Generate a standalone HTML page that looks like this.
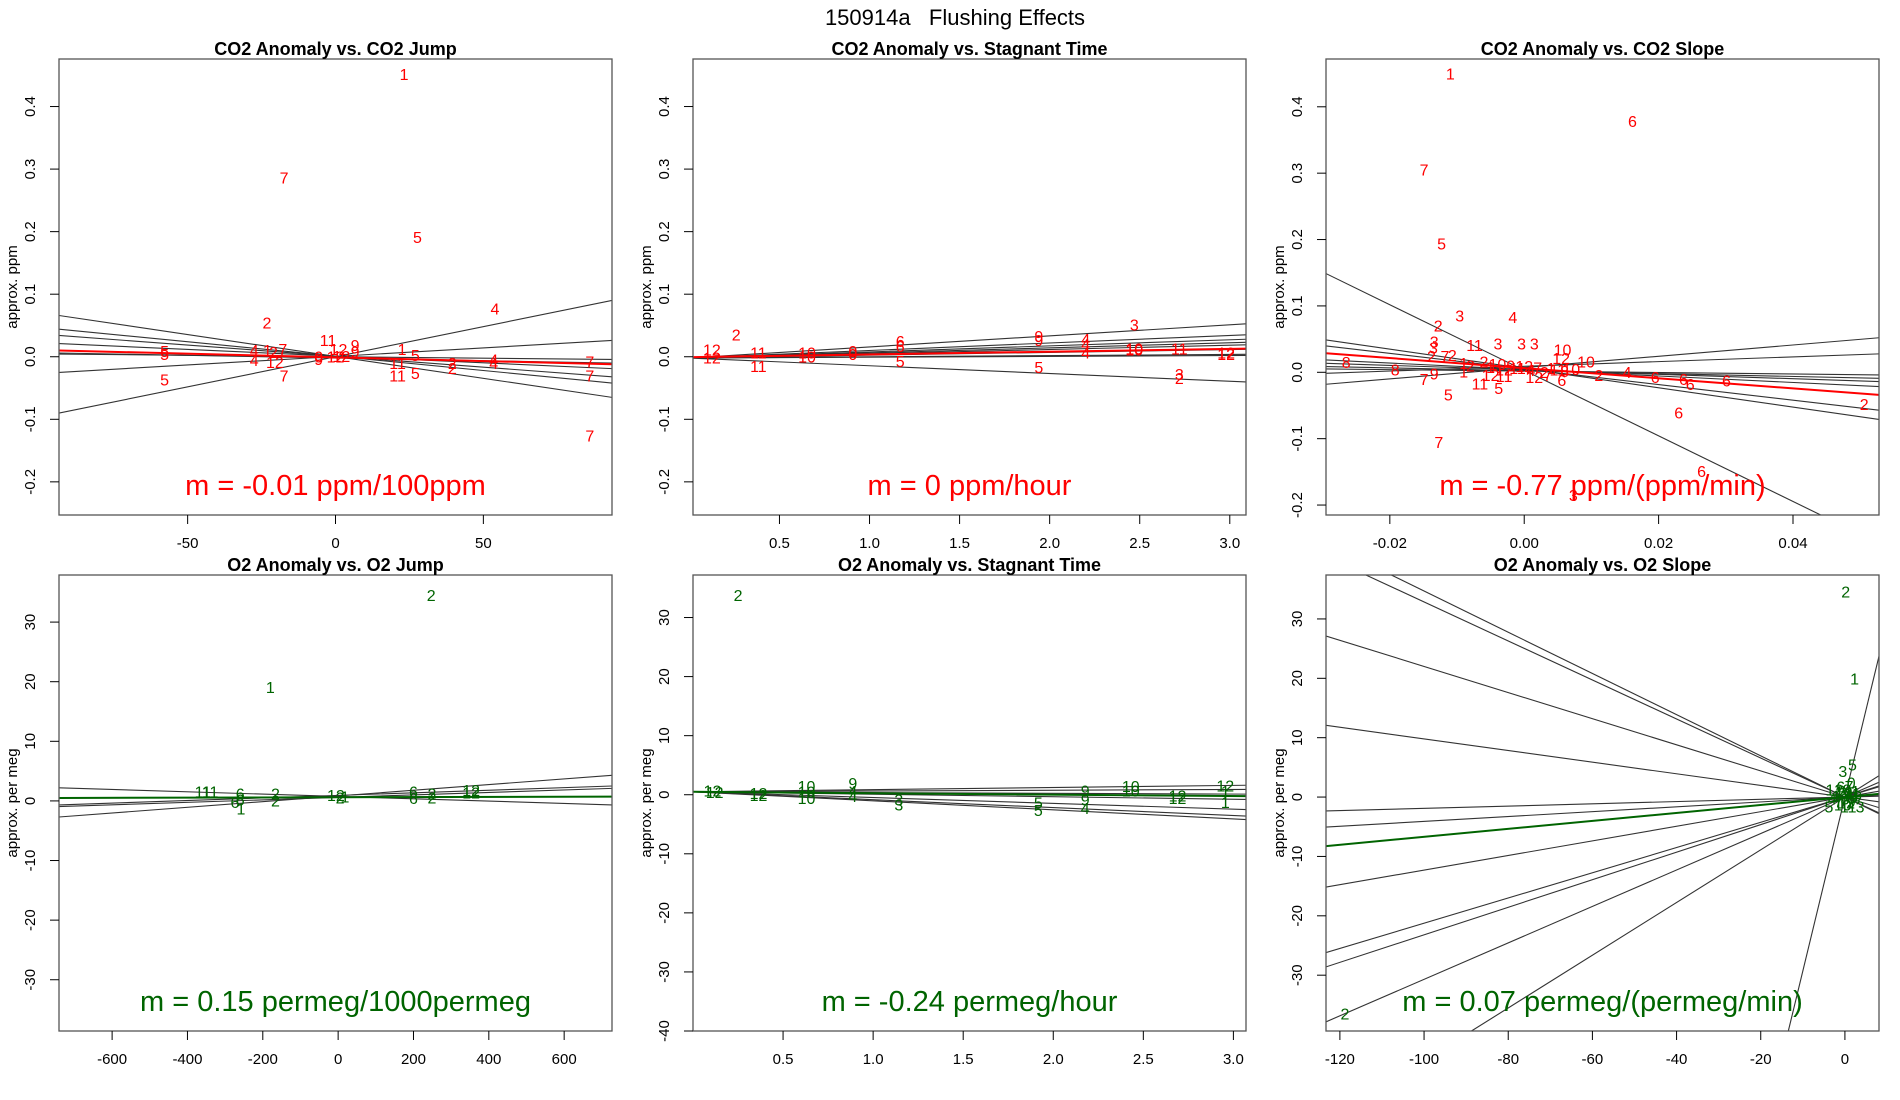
<!DOCTYPE html>
<html><head><meta charset="utf-8"><title>150914a Flushing Effects</title>
<style>
html,body{margin:0;padding:0;background:#fff;width:1900px;height:1100px;overflow:hidden;}
svg{display:block;font-family:"Liberation Sans",Arial,sans-serif;}
</style></head>
<body>
<svg id="chart" xmlns="http://www.w3.org/2000/svg" width="1900" height="1100" viewBox="0 0 1900 1100">
<rect x="0" y="0" width="1900" height="1100" fill="#fff"/>
<text x="955" y="25" text-anchor="middle" font-size="22" style="white-space:pre">150914a   Flushing Effects</text>
</svg>
<script>
// ---------- Panel 1: CO2 Anomaly vs CO2 Jump ----------
const p1X = [23.2,-17.4,27.7,53.9,-23.2,-57.8,-57.8,-57.8,-27.5,-27.5,-20.5,-17.4,-17.8,-23,-21,-2.5,1,6.6,-5.7,0,2,22.5,21,21,27,27,39.5,39.5,53.5,53.5,86,86,86,6.6,-5.7];
const p1Y = [0.45,0.284,0.189,0.075,0.052,0.007,0.002,-0.039,0.008,-0.008,-0.011,-0.032,0.01,0.008,0.005,0.024,0.01,0.016,-0.002,-0.002,-0.001,0.01,-0.012,-0.032,0.0,-0.028,-0.012,-0.02,-0.007,-0.012,-0.01,-0.032,-0.128,0.006,-0.006];
const p1Lab = ["1","7","5","4","2","5","5","5","4","4","12","7","7","1","2","11","12","9","0","12","12","1","11","11","5","5","2","2","4","4","7","7","7","9","9"];
const p1Slopes = [-0.0007,-0.00046,-0.000353,-0.000214,-0.0000856,0.000273,0.000963,-0.0000455];
const p1Ints = [0.0005,0.001,0.001,0.001,-0.002,0.0005,0,0];
const p1Fit = [-0.000118,-0.001];
const p1XTicks = [-50,0,50];
const p1YTicks = [-0.2,-0.1,0.0,0.1,0.2,0.3,0.4];

// ---------- Panel 2: CO2 Anomaly vs Stagnant Time ----------
const p2X = [0.125,0.125,0.26,0.383,0.383,0.653,0.653,0.907,0.907,1.17,1.17,1.17,1.94,1.94,1.94,2.47,2.2,2.2,2.2,2.47,2.47,2.72,2.72,2.72,2.98,2.98];
const p2Y = [0.009,-0.004,0.033,0.004,-0.017,0.004,-0.002,0.007,0.002,0.023,0.015,-0.009,0.031,0.024,-0.019,0.049,0.026,0.018,0.004,0.011,0.009,0.011,-0.03,-0.036,0.004,0.002];
const p2Lab = ["12","12","2","11","11","10","10","0","0","6","6","5","9","9","5","3","4","4","4","10","10","11","3","2","12","12"];
const p2Slopes = [0.0177,0.012,0.0097,0.0081,0.0068,0.0045,0.0019,0.0013,-0.0124];
const p2Ints = [-0.002,-0.002,-0.002,-0.002,-0.002,-0.002,-0.002,-0.002,-0.002];
const p2Fit = [0.0044,-0.0007];
const p2XTicks = [0.5,1.0,1.5,2.0,2.5,3.0];
const p2YTicks = [-0.2,-0.1,0.0,0.1,0.2,0.3,0.4];

// ---------- Panel 3: CO2 Anomaly vs CO2 Slope ----------
const p3X = [-0.011,0.0161,-0.0149,-0.0123,-0.0096,-0.0017,-0.0128,-0.0134,-0.0135,-0.0074,-0.0039,-0.0004,0.0015,0.0057,0.0092,0.0055,-0.0138,-0.0118,-0.0107,-0.0265,-0.0192,-0.0149,-0.0134,-0.0113,-0.0066,-0.0038,-0.0127,0.023,0.0195,0.0237,0.0247,0.0301,0.0153,0.0111,0.0506,0.0264,0.0073,0.0056,-0.009,-0.008,-0.006,-0.005,-0.004,-0.003,-0.002,-0.001,0.0,0.001,0.002,0.003,-0.005,-0.003,0.004,0.005,0.006,0.007,-0.009,0.0015,0.0035];
const p3Y = [0.448,0.376,0.303,0.192,0.083,0.081,0.068,0.044,0.035,0.039,0.041,0.041,0.041,0.032,0.014,0.019,0.022,0.022,0.024,0.013,0.002,-0.012,-0.004,-0.036,-0.019,-0.026,-0.107,-0.063,-0.009,-0.012,-0.02,-0.015,-0.002,-0.006,-0.05,-0.151,-0.187,-0.014,0.012,0.008,0.014,0.006,0.010,0.002,0.008,0.004,0.007,0.001,0.005,-0.002,-0.006,-0.008,0.004,0.002,0.0,0.003,-0.001,-0.009,-0.006];
const p3Lab = ["1","6","7","5","3","4","2","3","3","11","3","3","3","10","10","12","2","7","2","8","8","7","9","5","11","5","7","6","6","6","6","6","4","2","2","6","3","6","1","2","2","1","10","12","9","11","12","4","7","2","12","11","1","11","8","10","1","12","7"];
const p3Slopes = [-1.456,-1.176,-0.488,-0.335,-0.214,0.851,0.355,-0.109,-4.94];
const p3Ints = [0.0058,0.005,0.0042,0.0037,0.0023,0.0071,0.009,0.0018,0.003];
const p3Fit = [-0.762,0.0062];
const p3XTicks = [-0.02,0.00,0.02,0.04];
const p3YTicks = [-0.2,-0.1,0.0,0.1,0.2,0.3,0.4];

// ---------- Panel 4: O2 Anomaly vs O2 Jump ----------
const p4X = [247,-180,-359,-340,-260,-260,-274,-258,-166.5,-166.5,-6,18,5,200,200,249,249,353,353];
const p4Y = [34.3,18.9,1.3,1.3,1.0,0.0,-0.4,-1.5,1.0,-0.2,0.7,0.5,0.3,1.3,0.2,1.0,0.3,1.6,1.2];
const p4Lab = ["2","1","11","11","6","6","6","1","2","2","12","1","2","6","6","2","2","12","12"];
const p4Slopes = [-0.001955,0.00477,0.00216,0.00208];
const p4Ints = [0.751,0.834,0.93,0.59];
const p4Fit = [0.00015,0.61];
const p4XTicks = [-600,-400,-200,0,200,400,600];
const p4YTicks = [-30,-20,-10,0,10,20,30];

// ---------- Panel 5: O2 Anomaly vs Stagnant Time ----------
const p5X = [0.25,0.108,0.12,0.364,0.364,0.63,0.63,0.63,0.887,0.887,0.887,1.143,1.143,1.917,1.917,2.177,2.177,2.177,2.43,2.43,2.69,2.69,2.955,2.955,2.955];
const p5Y = [33.6,0.5,0.2,0.05,-0.3,1.2,0.3,-0.8,1.7,-0.5,0.4,-1.1,-1.9,-1.6,-2.8,0.5,-1.1,-2.5,1.2,0.5,-0.8,-0.4,1.3,-1.5,0.4];
const p5Lab = ["2","12","12","12","12","10","10","10","9","4","4","3","3","5","5","9","9","4","10","10","12","12","12","1","1"];
const p5Slopes = [0.36,0.13,-0.13,-0.42,-0.98,-1.34,-1.53];
const p5Ints = [0.5,0.5,0.5,0.5,0.5,0.5,0.5];
const p5Fit = [-0.24,0.5];
const p5XTicks = [0.5,1.0,1.5,2.0,2.5,3.0];
const p5YTicks = [-40,-30,-20,-10,0,10,20,30];

// ---------- Panel 6: O2 Anomaly vs O2 Slope ----------
const p6X = [0.2,2.3,-118.8,-0.5,1.8,1.5,-3.8,3.6,-2,-1,0,1,2,-1.5,0.5,1.5,-0.5,0.8,-2.5,2.5,0,-1,1,3,-3,0.3,-0.3,1.8];
const p6Y = [34.4,19.7,-36.7,4.1,5.2,2.2,-1.8,-1.8,0,0.5,-0.5,0.3,-0.2,-1,1,-1,-1.5,-1.8,1,0.8,0,1.5,1.6,0,-0.5,-1.2,0.6,0.4];
const p6Lab = ["2","1","2","3","5","0","5","3","1","2","3","4","6","7","8","9","10","11","12","1","2","6","7","9","4","12","10","11"];
const p6Slopes = [-0.3286,-0.347,-0.22,-0.098,0.019,0.041,0.123,0.2125,0.232,0.307,0.444,2.93];
const p6Ints = [0,0,0,0,0,0,0,0,0,0,0,0];
const p6Fit = [0.067,0];
const p6XTicks = [-120,-100,-80,-60,-40,-20,0];
const p6YTicks = [-30,-20,-10,0,10,20,30];

const NS = "http://www.w3.org/2000/svg";
const svg = document.getElementById("chart");
function mk(tag, attrs, parent){
  const e = document.createElementNS(NS, tag);
  for (const k in attrs) e.setAttribute(k, attrs[k]);
  (parent||svg).appendChild(e);
  return e;
}
function fmt(v, dec){ return (v<0?"-":"") + Math.abs(v).toFixed(dec); }

// clip line y = a + b x to the rectangle xlim x ylim; returns [x0,x1] or null
function clipLine(b, a, xlim, ylim){
  let x0 = xlim[0], x1 = xlim[1];
  if (b !== 0){
    let xa = (ylim[0]-a)/b, xb = (ylim[1]-a)/b;
    if (xa > xb){ const t = xa; xa = xb; xb = t; }
    x0 = Math.max(x0, xa); x1 = Math.min(x1, xb);
  } else if (a < ylim[0] || a > ylim[1]) return null;
  if (x0 >= x1) return null;
  return [x0, x1];
}

function panel(cfg){
  const {id,left,top,xlim,ylim,xs,ys,labs,slopes,ints,fit,xticks,yticks,xdec,ydec,color,title,ylab,note} = cfg;
  const W=553, H=456;
  const sx = v => left + (v - xlim[0])/(xlim[1]-xlim[0])*W;
  const sy = v => top + H - (v - ylim[0])/(ylim[1]-ylim[0])*H;
  const g = mk("g",{});
  
  
  const cp = mk("clipPath",{id:id+"-clip"}, g);
  mk("rect",{x:left,y:top,width:W,height:H}, cp);
  const plot = mk("g",{"clip-path":"url(#"+id+"-clip)"}, g);
  for (let i=0;i<slopes.length;i++){
    const c = clipLine(slopes[i], ints[i], xlim, ylim);
    if (!c) continue;
    const l = mk("line",{x1:sx(c[0]),y1:sy(ints[i]+slopes[i]*c[0]),x2:sx(c[1]),y2:sy(ints[i]+slopes[i]*c[1]),stroke:"#333",'stroke-width':1.1}, plot);
    
    
  }
  for (let i=0;i<xs.length;i++){
    const t = mk("text",{x:sx(xs[i]),y:sy(ys[i]),'text-anchor':"middle",'dominant-baseline':"central",'font-size':16,fill:color}, plot);
    t.textContent = labs[i];
    
    
  }
  const fc = clipLine(fit[0], fit[1], xlim, ylim);
  if (fc){
    const fl = mk("line",{x1:sx(fc[0]),y1:sy(fit[1]+fit[0]*fc[0]),x2:sx(fc[1]),y2:sy(fit[1]+fit[0]*fc[1]),stroke:color,'stroke-width':2}, plot);
    
    
  }
  const bx = mk("rect",{x:left,y:top,width:W,height:H,fill:"none",stroke:"#555",'stroke-width':1.3}, g);
  
  
  for (const v of xticks){
    const X = sx(v);
    mk("line",{x1:X,y1:top+H,x2:X,y2:top+H+9,stroke:"#000"}, g);
    const t = mk("text",{x:X,y:top+H+33,'text-anchor':"middle",'font-size':15}, g);
    t.textContent = fmt(v,xdec);
    
    
  }
  for (const v of yticks){
    const Y = sy(v);
    mk("line",{x1:left,y1:Y,x2:left-9,y2:Y,stroke:"#000"}, g);
    const t = mk("text",{x:left-24,y:Y,'text-anchor':"middle",'font-size':15,transform:"rotate(-90,"+(left-24)+","+Y+")"}, g);
    t.textContent = fmt(v,ydec);
    
    
  }
  const tt = mk("text",{x:left+W/2,y:top-4,'text-anchor':"middle",'font-size':18,'font-weight':"bold"}, g);
  tt.textContent = title;
  
  
  const yl = mk("text",{x:left-42,y:top+H/2,'text-anchor':"middle",'font-size':15,transform:"rotate(-90,"+(left-42)+","+(top+H/2)+")"}, g);
  yl.textContent = ylab;
  
  
  const nt = mk("text",{x:left+W/2,y:top+436,'text-anchor':"middle",'font-size':29,fill:color}, g);
  nt.textContent = note;
  
  
}

const RED="#ff0000", GREEN="#006400";
panel({id:"co2-jump",left:59,top:59,xlim:[-93.5,93.5],ylim:[-0.253,0.476],xs:p1X,ys:p1Y,labs:p1Lab,slopes:p1Slopes,ints:p1Ints,fit:p1Fit,xticks:p1XTicks,yticks:p1YTicks,xdec:0,ydec:1,color:RED,title:"CO2 Anomaly vs. CO2 Jump",ylab:"approx. ppm",note:"m = -0.01 ppm/100ppm"});
panel({id:"co2-stagnant",left:693,top:59,xlim:[0.02,3.09],ylim:[-0.253,0.476],xs:p2X,ys:p2Y,labs:p2Lab,slopes:p2Slopes,ints:p2Ints,fit:p2Fit,xticks:p2XTicks,yticks:p2YTicks,xdec:1,ydec:1,color:RED,title:"CO2 Anomaly vs. Stagnant Time",ylab:"approx. ppm",note:"m = 0 ppm/hour"});
panel({id:"co2-slope",left:1326,top:59,xlim:[-0.0295,0.0528],ylim:[-0.215,0.472],xs:p3X,ys:p3Y,labs:p3Lab,slopes:p3Slopes,ints:p3Ints,fit:p3Fit,xticks:p3XTicks,yticks:p3YTicks,xdec:2,ydec:1,color:RED,title:"CO2 Anomaly vs. CO2 Slope",ylab:"approx. ppm",note:"m = -0.77 ppm/(ppm/min)"});
panel({id:"o2-jump",left:59,top:575,xlim:[-741,727],ylim:[-38.6,37.9],xs:p4X,ys:p4Y,labs:p4Lab,slopes:p4Slopes,ints:p4Ints,fit:p4Fit,xticks:p4XTicks,yticks:p4YTicks,xdec:0,ydec:0,color:GREEN,title:"O2 Anomaly vs. O2 Jump",ylab:"approx. per meg",note:"m = 0.15 permeg/1000permeg"});
panel({id:"o2-stagnant",left:693,top:575,xlim:[0.0,3.07],ylim:[-40,37.2],xs:p5X,ys:p5Y,labs:p5Lab,slopes:p5Slopes,ints:p5Ints,fit:p5Fit,xticks:p5XTicks,yticks:p5YTicks,xdec:1,ydec:0,color:GREEN,title:"O2 Anomaly vs. Stagnant Time",ylab:"approx. per meg",note:"m = -0.24 permeg/hour"});
panel({id:"o2-slope",left:1326,top:575,xlim:[-123.3,8.1],ylim:[-39.4,37.4],xs:p6X,ys:p6Y,labs:p6Lab,slopes:p6Slopes,ints:p6Ints,fit:p6Fit,xticks:p6XTicks,yticks:p6YTicks,xdec:0,ydec:0,color:GREEN,title:"O2 Anomaly vs. O2 Slope",ylab:"approx. per meg",note:"m = 0.07 permeg/(permeg/min)"});
</script>
</body></html>
